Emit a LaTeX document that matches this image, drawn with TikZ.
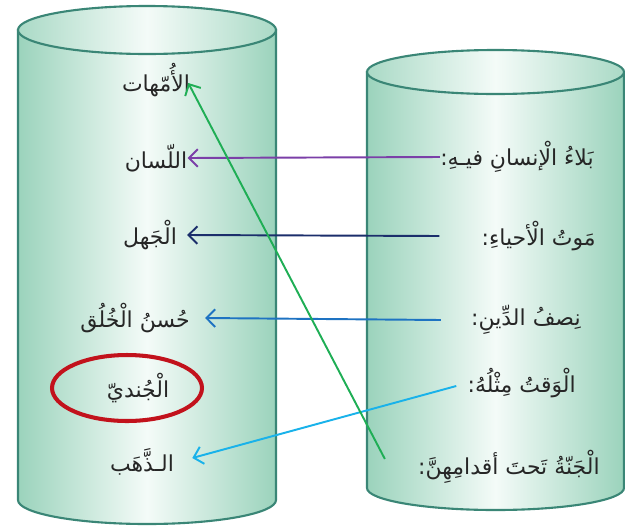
\documentclass[tikz,border=0pt]{standalone}
\usepackage{fontspec}
\usetikzlibrary{arrows.meta,shapes.geometric,calc}
\TeXXeTstate=1
\newfontfamily\arabicfont[Script=Arabic]{DejaVu Sans}
\definecolor{cylgreen}{HTML}{9BD3BC}
\definecolor{cyllight}{HTML}{F4FBF8}
\definecolor{cyledge}{HTML}{3A8676}
\definecolor{ringred}{HTML}{C2121C}
\definecolor{apurple}{HTML}{7B3FA8}
\definecolor{anavy}{HTML}{1B2E6B}
\definecolor{ablue}{HTML}{1E73C2}
\definecolor{acyan}{HTML}{19B2EA}
\definecolor{agreen}{HTML}{1FAE55}
\tikzset{
  cylbody/.style={draw=cyledge, line width=1.2pt, left color=cylgreen, right color=cylgreen, middle color=cyllight},
  cyltop/.style={draw=cyledge, line width=1.2pt, left color=cylgreen!85, right color=cylgreen!85, middle color=cyllight},
  word/.style={font=\arabicfont\fontsize{12.5}{15}\selectfont, inner sep=0pt, text=black!85},
  arr/.style={line width=1.1pt, -{Straight Barb[length=5pt,width=10pt,line width=1.1pt]}},
}
\begin{document}
\begin{tikzpicture}[x=0.02cm,y=0.02cm]
\useasboundingbox (0,0) rectangle (625,529);
% left cylinder
\path[cylbody] (18,499) -- (18,29) arc[start angle=180,end angle=360,x radius=129,y radius=24] -- (276,499) -- cycle;
\path[cyltop] (147,499) ellipse[x radius=129,y radius=24];
% right cylinder
\path[cylbody] (367,457) -- (367,41) arc[start angle=180,end angle=360,x radius=128.5,y radius=22] -- (624,457) -- cycle;
\path[cyltop] (495.5,457) ellipse[x radius=128.5,y radius=22];
% left words
\node[word] (l1) at (156,449) {\beginR الأُمّهات\endR};
\node[word] (l2) at (156,371) {\beginR اللّسان\endR};
\node[word] (l3) at (150,294) {\beginR الْجَهل\endR};
\node[word] (l4) at (135,211) {\beginR حُسنُ الْخُلُق\endR};
\node[word] (l5) at (138,141) {\beginR الْجُنديّ\endR};
\node[word] (l6) at (142,67) {\beginR الـذَّهَب\endR};
\node[draw=ringred, line width=2.3pt, ellipse, minimum width=3cm, minimum height=1.32cm, inner sep=0pt] (ring) at (127,141) {};
% right words
\node[word, anchor=east] (r1) at (594,372) {\beginR بَلاءُ الْإنسانِ فيـهِ:\endR};
\node[word, anchor=east] (r2) at (596,293) {\beginR مَوتُ الْأحياءِ:\endR};
\node[word, anchor=east] (r3) at (581,209) {\beginR نِصفُ الدِّينِ:\endR};
\node[word, anchor=east] (r4) at (576,146) {\beginR الْوَقتُ مِثْلُهُ:\endR};
\node[word, anchor=east] (r5) at (600,62) {\beginR الْجَنّةُ تَحتَ أقدامِهِنَّ:\endR};
% arrows
\draw[arr, apurple] (r1.west) -- (l2.east);
\draw[arr, anavy] ($(r2.west)+(-42,0)$) -- ($(l3.east)+(10,0)$);
\draw[arr, ablue] ($(r3.west)+(-30,0)$) -- ($(l4.east)+(15,0)$);
\draw[arr, acyan] ($(r4.west)+(-11,-3)$) -- ($(l6.east)+(18,4)$);
\draw[arr, agreen] ($(r5.west)+(-33,8)$) -- ($(l1.east)+(-2,-3)$);
\end{tikzpicture}
\end{document}
